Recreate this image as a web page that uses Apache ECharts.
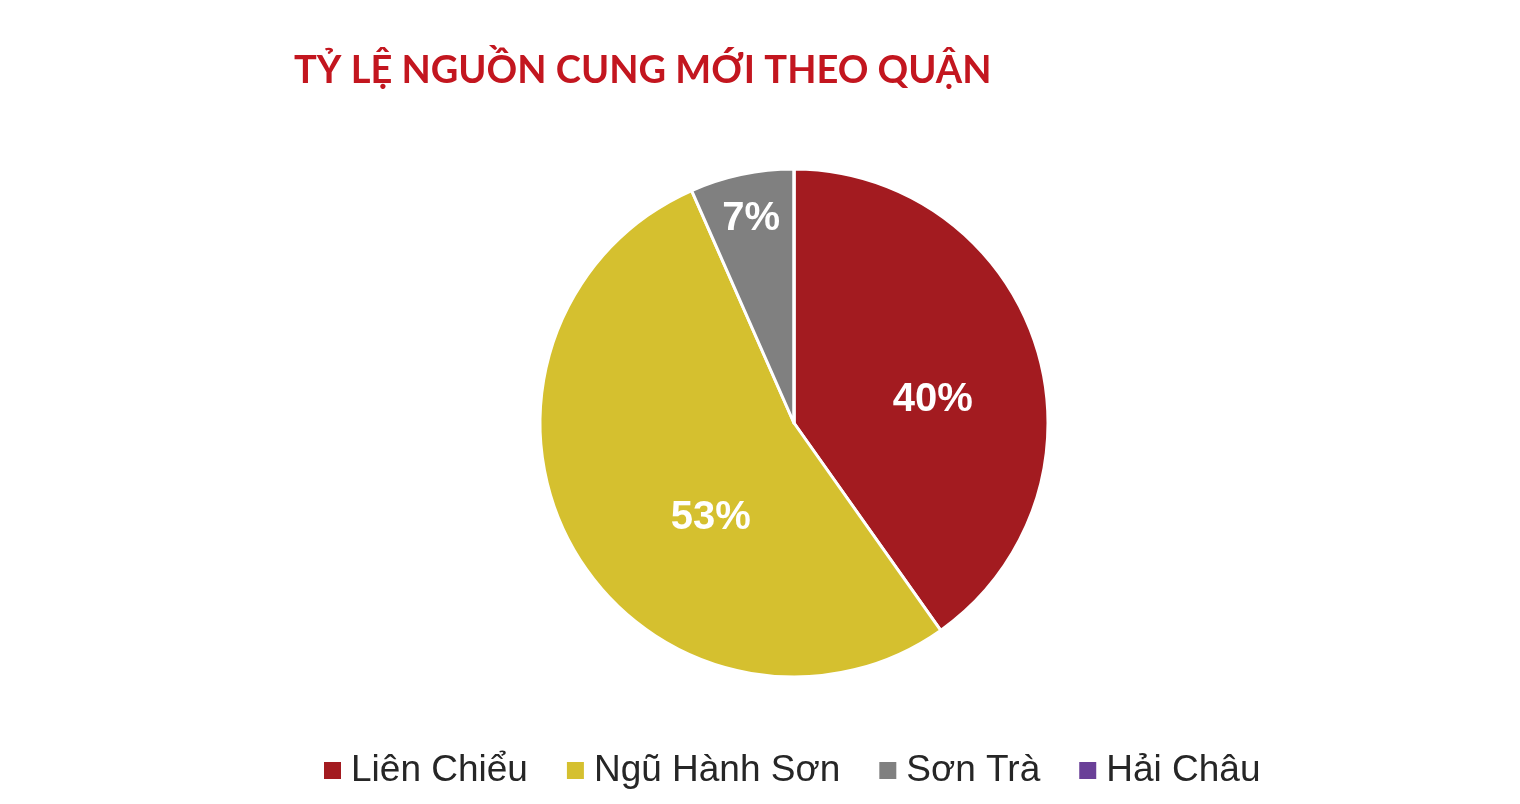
<!DOCTYPE html>
<html>
<head>
<meta charset="utf-8">
<script src="https://cdn.jsdelivr.net/npm/echarts@6/dist/echarts.min.js"></script>
<style>
html,body{margin:0;padding:0;background:#fff;}
#chart{width:1520px;height:804px;}
</style>
</head>
<body>
<div id="chart"></div>
<script>
var titleText = 'TỶ LỆ NGUỒN CUNG MỚI THEO QUẬN';
var categories = ['Liên Chiểu', 'Ngũ Hành Sơn', 'Sơn Trà', 'Hải Châu'];
var values = [40.2, 53.2, 6.6, 0];
var colors = ['#A31B20', '#D5C02F', '#808080', '#6A4098'];
var labelOffsets = [[15, 16], [30, 31], [-16, -77], [0, 0]];

var data = categories.map(function (name, i) {
  return {
    name: name,
    value: values[i],
    itemStyle: { color: colors[i] },
    label: { show: values[i] > 0, offset: labelOffsets[i] }
  };
});

var chart = echarts.init(document.getElementById('chart'));
chart.setOption({
  backgroundColor: '#ffffff',
  animation: false,
  title: {
    text: titleText,
    left: 289,
    top: 47,
    textStyle: {
      fontFamily: 'Lato',
      fontWeight: 'bold',
      fontSize: 38,
      color: '#C3161F'
    }
  },
  legend: {
    bottom: 10,
    left: 317,
    icon: 'rect',
    itemWidth: 19,
    itemHeight: 19,
    itemGap: 37,
    selectedMode: false,
    textStyle: {
      fontFamily: 'Liberation Sans',
      fontSize: 37,
      color: '#262626',
      padding: [0, 0, 0, 4]
    },
    data: categories
  },
  series: [{
    type: 'pie',
    center: [794, 423],
    radius: [0, 254],
    startAngle: 90,
    clockwise: true,
    avoidLabelOverlap: false,
    itemStyle: { borderColor: '#ffffff', borderWidth: 3 },
    label: {
      position: 'inside',
      color: '#ffffff',
      fontFamily: 'Liberation Sans',
      fontWeight: 'bold',
      fontSize: 40,
      formatter: function (p) { return Math.round(p.value) + '%'; }
    },
    labelLine: { show: false },
    emphasis: { disabled: true },
    data: data
  }]
});
</script>
</body>
</html>
